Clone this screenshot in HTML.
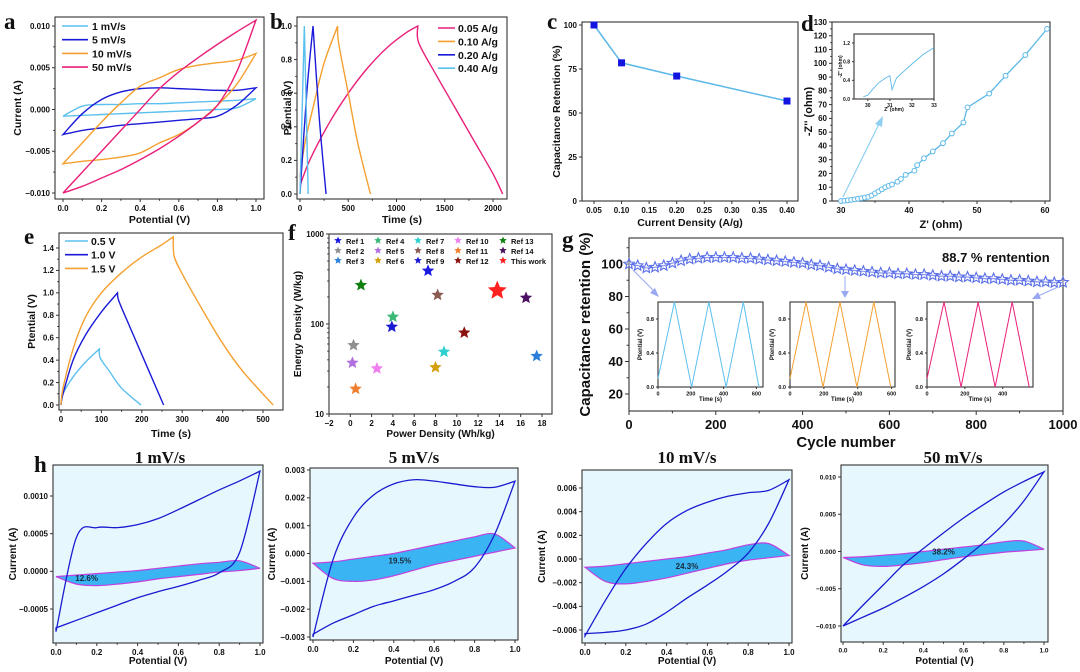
<!DOCTYPE html>
<html><head><meta charset="utf-8">
<style>
html,body{margin:0;padding:0;background:#fff;}
svg{display:block;font-family:"Liberation Sans",Arial,sans-serif;}
.lt{font-family:"Liberation Serif",serif;font-weight:bold;}
</style></head>
<body>
<svg id="fig" width="1080" height="672" viewBox="0 0 1080 672"></svg>
<script>
// ---------- DATA ----------
const cvV=[0,0.1,0.2,0.3,0.4,0.5,0.6,0.7,0.8,0.9,1.0];
// panel a
const a1Up=[-0.0008,0.0004,0.0006,0.0006,0.0007,0.0007,0.0008,0.0009,0.0010,0.0011,0.0013];
const a1Lo=[-0.0008,-0.0007,-0.0006,-0.0005,-0.0004,-0.0003,-0.0002,-0.0001,0.0000,0.0002,0.0013];
const a5Up=[-0.003,-0.0005,0.0012,0.0021,0.0025,0.0026,0.0025,0.0024,0.0023,0.0023,0.0026];
const a5Lo=[-0.003,-0.0025,-0.0022,-0.0019,-0.0017,-0.0015,-0.0013,-0.0011,-0.0008,0.0005,0.0026];
const a10Up=[-0.0065,-0.004,-0.0015,0.0008,0.0028,0.0038,0.0048,0.0053,0.0056,0.0059,0.0067];
const a10Lo=[-0.0065,-0.0062,-0.006,-0.0057,-0.0052,-0.004,-0.003,-0.0015,0.0005,0.003,0.0067];
const a50Up=[-0.010,-0.0075,-0.005,-0.0025,0.000,0.0025,0.0045,0.0062,0.0078,0.0093,0.0107];
const a50Lo=[-0.010,-0.0092,-0.0082,-0.0072,-0.006,-0.0047,-0.0032,-0.0015,0.0005,0.0045,0.0107];
const aLabels=["1 mV/s","5 mV/s","10 mV/s","50 mV/s"];
// panel b
const b05T=[0,100,300,500,700,900,1100,1221,1230,1400,1600,1800,2000,2100];
const b05V=[0.05,0.2,0.42,0.6,0.75,0.87,0.96,1.0,0.9,0.72,0.52,0.32,0.12,0.0];
const b10T=[0,50,150,250,390,400,500,600,730];
const b10V=[0.1,0.3,0.55,0.78,1.0,0.9,0.6,0.3,0.0];
const b20T=[0,70,135,200,270];
const b20V=[0,0.6,1.0,0.45,0.0];
const b40T=[0,45,85];
const b40V=[0,1,0];
const bLabels=["0.05 A/g","0.10 A/g","0.20 A/g","0.40 A/g"];
// panel c
const cX=[0.05,0.1,0.2,0.4];
const cY=[100,78.5,71,56.8];
// panel d
const dX=[30,30.5,31,31.5,32,32.5,33,33.5,34,34.5,35,35.5,36,36.5,37,37.5,38.3,38.8,39.5,40.8,41.2,42.2,43.5,45,46.3,48,48.6,51.8,54.2,57.1,60.3];
const dY=[0,0.2,0.5,0.8,1.2,1.6,2,2.5,3,4,5.5,7,8.5,10,11,12,14,16,19,22,26,31,36,42,49,57,68,78,91,106,125];
const dInX=[29.8,30,30.2,30.5,30.8,31,31.1,31.3,31.6,32,32.5,33];
const dInY=[0.05,0.08,0.2,0.35,0.45,0.5,0.2,0.45,0.58,0.75,0.95,1.1];
// panel e
const e05T=[0,5,30,60,95,97,120,150,198];
const e05V=[0,0.1,0.25,0.38,0.5,0.42,0.3,0.15,0];
const e10T=[0,5,30,60,100,140,143,170,200,254];
const e10V=[0,0.1,0.4,0.62,0.83,1.0,0.93,0.7,0.45,0];
const e15T=[0,5,30,60,100,150,200,250,278,280,300,350,400,450,525];
const e15V=[0,0.15,0.5,0.78,1.0,1.18,1.32,1.43,1.5,1.33,1.17,0.85,0.55,0.3,0];
const eLabels=["0.5 V","1.0 V","1.5 V"];
// panel f
const fNames=["Ref 1","Ref 2","Ref 3","Ref 4","Ref 5","Ref 6","Ref 7","Ref 8","Ref 9","Ref 10","Ref 11","Ref 12","Ref 13","Ref 14","This work"];
const fPower=[7.3,0.3,17.5,4,0.2,8,8.8,8.2,3.9,2.5,0.5,10.7,1,16.5,13.8];
const fEnergy=[390,58,44,120,37,33,49,210,93,32,19,80,270,195,235];
// panel g
const gCycle=[0,20,40,60,80,100,120,140,160,180,200,220,240,260,280,300,320,340,360,380,400,420,440,460,480,500,520,540,560,580,600,620,640,660,680,700,720,740,760,780,800,820,840,860,880,900,920,940,960,980,1000];
const gRet=[100,99,97.5,98,99,100.5,102,103,103.5,104,104,104,104,103.5,103.5,103,102.5,102,101.5,101,100.5,99.5,99,98,97,96.5,96,95.5,95,94.5,94.5,94,94,93.5,93.5,93,92.5,92.5,92,92,91.5,91,91,90.5,90,90,89.5,89,89,88.5,88.7];
const gIn1T=[0,100,205,310,415,520,615];
const gIn2T=[0,95,195,295,395,495,595];
const gIn3T=[0,90,180,270,360,450,540];
const gInV=[0.1,1,0,1,0,1,0];
// panel h
const h1Up=[-0.0008,0.00045,0.00058,0.00058,0.00062,0.0007,0.00082,0.00095,0.00108,0.0012,0.00133];
const h1Lo=[-0.00075,-0.00065,-0.00055,-0.00045,-0.00035,-0.00027,-0.0002,-0.00012,-0.00002,0.00025,0.00133];
const h1CUp=[-0.00007,-0.00005,-0.00003,-0.00001,0.00001,0.00004,0.00007,0.0001,0.00012,0.00014,0.00004];
const h1CLo=[-0.00007,-0.00017,-0.00019,-0.00017,-0.00014,-0.0001,-0.00007,-0.00004,-0.00001,0.00001,0.00004];
const h2Up=[-0.003,-0.0002,0.0013,0.0021,0.0025,0.00265,0.0026,0.0025,0.0024,0.00238,0.0026];
const h2Lo=[-0.0029,-0.0025,-0.0022,-0.0019,-0.0017,-0.0015,-0.0013,-0.001,-0.0005,0.0007,0.0026];
const h2CUp=[-0.00035,-0.0003,-0.0002,-0.0001,0,0.00015,0.0003,0.00045,0.0006,0.0007,0.0002];
const h2CLo=[-0.00035,-0.0009,-0.001,-0.00095,-0.0008,-0.0006,-0.0004,-0.00025,-0.0001,0.00005,0.0002];
const h3Up=[-0.0065,-0.0035,-0.0008,0.0013,0.003,0.0041,0.0048,0.0053,0.0056,0.0058,0.0067];
const h3Lo=[-0.0063,-0.0062,-0.006,-0.0055,-0.0045,-0.0033,-0.0022,-0.001,0.0005,0.003,0.0067];
const h3CUp=[-0.0007,-0.0006,-0.0004,-0.0002,0,0.0002,0.0005,0.0008,0.0012,0.0013,0.0003];
const h3CLo=[-0.0007,-0.0019,-0.0021,-0.0019,-0.0016,-0.0012,-0.0008,-0.0004,-0.0001,0.0001,0.0003];
const h4Up=[-0.010,-0.0072,-0.0045,-0.0018,0.0004,0.0025,0.0045,0.0063,0.008,0.0094,0.0107];
const h4Lo=[-0.010,-0.0088,-0.0076,-0.0062,-0.0047,-0.003,-0.001,0.0012,0.0037,0.0068,0.0107];
const h4CUp=[-0.0008,-0.0007,-0.0005,-0.0003,0,0.0003,0.0006,0.0009,0.0013,0.0014,0.0003];
const h4CLo=[-0.0008,-0.0018,-0.002,-0.0018,-0.0015,-0.0011,-0.0007,-0.0004,-0.0001,0.0001,0.0003];
const hPercent=["12.6%","19.5%","24.3%","38.2%"];

// ---------- HELPERS ----------
const NS='http://www.w3.org/2000/svg';
const svg=document.getElementById('fig');
function mk(tag,attrs,parent){const e=document.createElementNS(NS,tag);for(const k in attrs)e.setAttribute(k,attrs[k]);(parent||svg).appendChild(e);return e;}
function lin(d0,d1,r0,r1){return v=>r0+(v-d0)*(r1-r0)/(d1-d0);}
function logs(d0,d1,r0,r1){const l0=Math.log10(d0),l1=Math.log10(d1);return v=>r0+(Math.log10(v)-l0)*(r1-r0)/(l1-l0);}
function smooth(p,start){let d=(start||'M')+p[0][0].toFixed(2)+','+p[0][1].toFixed(2);for(let i=0;i<p.length-1;i++){const p0=p[i-1]||p[i],p1=p[i],p2=p[i+1],p3=p[i+2]||p2;const c1=[p1[0]+(p2[0]-p0[0])/6,p1[1]+(p2[1]-p0[1])/6],c2=[p2[0]-(p3[0]-p1[0])/6,p2[1]-(p3[1]-p1[1])/6];d+='C'+c1[0].toFixed(2)+','+c1[1].toFixed(2)+' '+c2[0].toFixed(2)+','+c2[1].toFixed(2)+' '+p2[0].toFixed(2)+','+p2[1].toFixed(2);}return d;}
function poly(p){return 'M'+p.map(q=>q[0].toFixed(2)+','+q[1].toFixed(2)).join('L');}
function fmtNum(v,dec){const s=Math.abs(v).toFixed(dec);return (v<0?'\u2212':'')+s;}
function txt(x,y,s,size,extra,parent){const t=mk('text',Object.assign({x:x,y:y,'font-size':size,'font-weight':'bold',fill:'#111'},extra||{}),parent);t.textContent=s;return t;}
function starPath(cx,cy,r){let d='';for(let i=0;i<10;i++){const rr=i%2?r*0.45:r;const a=-Math.PI/2+i*Math.PI/5;d+=(i?'L':'M')+(cx+rr*Math.cos(a)).toFixed(2)+','+(cy+rr*Math.sin(a)).toFixed(2);}return d+'Z';}

function frame(o){
  const g=mk('g',{});
  
  
  const r=mk('rect',{x:o.L,y:o.T,width:o.R-o.L,height:o.B-o.T,fill:o.bg||'none',stroke:'#333','stroke-width':1.1},g);
  
  
  const tl=o.tl||3;
  (o.xm||[]).forEach(v=>{const x=o.xs(v);mk('line',{x1:x,x2:x,y1:o.B,y2:o.B+tl*0.6,stroke:'#333','stroke-width':1},g);});
  (o.ym||[]).forEach(v=>{const y=o.ys(v);mk('line',{x1:o.L,x2:o.L-tl*0.6,y1:y,y2:y,stroke:'#333','stroke-width':1},g);});
  o.xt.forEach(v=>{const x=o.xs(v);mk('line',{x1:x,x2:x,y1:o.B,y2:o.B+tl,stroke:'#333','stroke-width':1},g);
    const t=txt(x,o.B+tl+o.fs+1,o.xf(v),o.fs,{'text-anchor':'middle'},g);
    
    });
  o.yt.forEach(v=>{const y=o.ys(v);mk('line',{x1:o.L,x2:o.L-tl,y1:y,y2:y,stroke:'#333','stroke-width':1},g);
    const t=txt(o.L-tl-2,y+o.fs*0.35,o.yf(v),o.fs,{'text-anchor':'end'},g);
    
    });
  if(o.xtitle){const t=txt((o.L+o.R)/2,o.xty,o.xtitle,o.tfs,{'text-anchor':'middle'},g);
    
    }
  if(o.ytitle){const cy=(o.T+o.B)/2;const t=txt(o.ytx,cy,o.ytitle,o.tfs,{'text-anchor':'middle',transform:'rotate(-90 '+o.ytx+' '+cy+')'},g);
    
    }
  return g;
}
function letter(x,y,s){const t=txt(x,y,s,23,{class:'lt'});
  
  }
function range(a,b,s){const r=[];for(let v=a;v<=b+1e-9;v+=s)r.push(+v.toFixed(6));return r;}
function loopPath(xs,ys,up,lo){const pu=cvV.map((v,i)=>[xs(v),ys(up[i])]);const pl=cvV.map((v,i)=>[xs(v),ys(lo[i])]).reverse();return smooth(pu)+smooth(pl,'L').replace(/^L[^C]*/,'')+'Z';}
function openLoop(xs,ys,up,lo){const pu=cvV.map((v,i)=>[xs(v),ys(up[i])]);const pl=cvV.map((v,i)=>[xs(v),ys(lo[i])]).reverse();return smooth(pu)+' '+smooth(pl,'L').replace(/^L[^C]*/,'')+'Z';}

// ---------- PANEL A ----------
(function(){
const xs=lin(0,1,63,256), ys=lin(-0.01,0.01,193,26);
const g=frame({name:'panel-a',L:55,R:264,T:17,B:199,xs,ys,xt:range(0,1,0.2),yt:[-0.01,-0.005,0,0.005,0.01],xf:v=>v.toFixed(1),yf:v=>fmtNum(v,3),fs:8,tfs:10.5,xtitle:'Potential (V)',xty:223,ytitle:'Current (A)',ytx:21,xm:range(0.1,0.9,0.2),ym:[-0.0075,-0.0025,0.0025,0.0075]});
const series=[[a1Up,a1Lo,'#5cc0ee'],[a5Up,a5Lo,'#1a1ad8'],[a10Up,a10Lo,'#f5a030'],[a50Up,a50Lo,'#e8207a']];
series.forEach((s,i)=>{const p=mk('path',{d:loopPath(xs,ys,s[0],s[1]),fill:'none',stroke:s[2],'stroke-width':1.4},g);
  
  
  const y=26+i*13.7;
  const l=mk('line',{x1:62,x2:88,y1:y,y2:y,stroke:s[2],'stroke-width':1.6},g);
  
  
  const t=txt(92,y+4,aLabels[i],10.5,{},g);
  
  });
letter(4,29,'a');
})();

// ---------- PANEL B ----------
(function(){
const xs=lin(0,2000,300,493), ys=lin(0,1,194,26);
const g=frame({name:'panel-b',L:297,R:507,T:17,B:199,xs,ys,xt:[0,500,1000,1500,2000],yt:range(0,1,0.2),xf:v=>String(v),yf:v=>v.toFixed(1),fs:8,tfs:10.5,xtitle:'Time (s)',xty:223,ytitle:'Ptential (V)',ytx:291,xm:[250,750,1250,1750],ym:range(0.1,0.9,0.2)});
const series=[[b05T,b05V,'#e8207a'],[b10T,b10V,'#f5a030'],[b20T,b20V,'#1a1ad8'],[b40T,b40V,'#5cc0ee']];
series.forEach((s,i)=>{const pts=s[0].map((t,j)=>[xs(t),ys(s[1][j])]);
  const k=s[1].indexOf(Math.max(...s[1]));
  const p=mk('path',{d:smooth(pts.slice(0,k+1))+smooth(pts.slice(k),'L').replace(/^L[^C]*/,''),fill:'none',stroke:s[2],'stroke-width':1.4},g);
  
  
  const y=28+i*13.4;
  const l=mk('line',{x1:438,x2:455,y1:y,y2:y,stroke:s[2],'stroke-width':1.6},g);
  
  
  const t=txt(458,y+4,bLabels[i],10.5,{},g);
  
  });
letter(270,29,'b');
})();

// ---------- PANEL C ----------
(function(){
const xs=lin(0.05,0.4,594,787), ys=lin(0,100,201,25);
const g=frame({name:'panel-c',L:582,R:798,T:22,B:201,xs,ys,xt:range(0.05,0.4,0.05),yt:[0,25,50,75,100],xf:v=>v.toFixed(2),yf:v=>String(v),fs:8,tfs:10.5,xtitle:'Current Density (A/g)',xty:226,ytitle:'Capacitance Retention (%)',ytx:560});
const pts=cX.map((x,i)=>[xs(x),ys(cY[i])]);
const l=mk('path',{d:poly(pts),fill:'none',stroke:'#5cb8e8','stroke-width':1.5},g);


pts.forEach(p=>{const r=mk('rect',{x:p[0]-3.5,y:p[1]-3.5,width:7,height:7,fill:'#1414e0'},g);
  
  });
letter(547,29,'c');
})();

// ---------- PANEL D ----------
(function(){
const xs=lin(30,60,841,1045), ys=lin(0,130,201,22);
const g=frame({name:'panel-d',L:832,R:1050,T:22,B:201,xs,ys,xt:[30,40,50,60],yt:range(0,130,10),xf:v=>String(v),yf:v=>String(v),fs:8,tfs:11,xtitle:"Z' (ohm)",xty:228,ytitle:"-Z'' (ohm)",ytx:812,xm:[35,45,55],ym:range(5,125,10)});
const pts=dX.map((x,i)=>[xs(x),ys(dY[i])]);
const l=mk('path',{d:poly(pts),fill:'none',stroke:'#5cb8e8','stroke-width':1.3},g);


pts.forEach(p=>{const c=mk('circle',{cx:p[0],cy:p[1],r:2.4,fill:'#fff',stroke:'#5cb8e8','stroke-width':1},g);
  
  });
const ar=mk('path',{d:'M843,197L879,124',stroke:'#8fd0f2','stroke-width':1.2,fill:'none'},g);


const ah=mk('path',{d:'M883,116L875,124L882,127Z',fill:'#8fd0f2'},g);


const ixs=lin(29.6,33,859,934), iys=lin(0,1.2,99,43);
const gi=frame({name:'panel-d-inset',L:854,R:934,T:34,B:99,xs:ixs,ys:iys,xt:[30,31,32,33],yt:[0,0.4,0.8,1.2],xf:v=>String(v),yf:v=>v.toFixed(1),fs:5,tfs:5,tl:2,xtitle:"Z' (ohm)",xty:111,ytitle:"-Z'' (ohm)",ytx:842});
const il=mk('path',{d:poly(dInX.map((x,i)=>[ixs(x),iys(dInY[i])])),fill:'none',stroke:'#5cb8e8','stroke-width':0.9},gi);


letter(801,31,'d');
})();

// ---------- PANEL E ----------
(function(){
const xs=lin(0,500,61,263), ys=lin(0,1.4,405,248);
const g=frame({name:'panel-e',L:59,R:283,T:233,B:410,xs,ys,xt:range(0,500,100),yt:range(0,1.4,0.2),xf:v=>String(v),yf:v=>v.toFixed(1),fs:8,tfs:10.5,xtitle:'Time (s)',xty:437,ytitle:'Ptential (V)',ytx:35,xm:range(50,450,100),ym:range(0.1,1.3,0.2)});
const series=[[e05T,e05V,'#5cc0ee'],[e10T,e10V,'#1a1ad8'],[e15T,e15V,'#f5a030']];
series.forEach((s,i)=>{const pts=s[0].map((t,j)=>[xs(t),ys(s[1][j])]);
  const k=s[1].indexOf(Math.max(...s[1]));
  const p=mk('path',{d:smooth(pts.slice(0,k+1))+smooth(pts.slice(k),'L').replace(/^L[^C]*/,''),fill:'none',stroke:s[2],'stroke-width':1.4},g);
  
  
  const y=241+i*13.7;
  const l=mk('line',{x1:65,x2:88,y1:y,y2:y,stroke:s[2],'stroke-width':1.6},g);
  
  
  const t=txt(91,y+4,eLabels[i],10.5,{},g);
  
  });
letter(24,244,'e');
})();

// ---------- PANEL F ----------
(function(){
const xs=lin(-2,18,329,542), ys=logs(10,1000,414,234);
const g=frame({name:'panel-f',L:329,R:552,T:234,B:414,xs,ys,xt:range(-2,18,2),yt:[10,100,1000],xf:v=>(v<0?'\u2212':'')+Math.abs(v),yf:v=>String(v),fs:8,tfs:10,xtitle:'Power Density (Wh/kg)',xty:437,ytitle:'Energy Density (W/kg)',ytx:301,ym:[20,30,40,50,60,70,80,90,200,300,400,500,600,700,800,900]});
const cols=['#1a1ae0','#909090','#2a80d8','#3cb878','#b070e0','#d4a010','#30d0d0','#8b5a50','#1a1ad0','#f080f0','#f08030','#8b1010','#108010','#4b1060','#ff2020'];
fPower.forEach((p,i)=>{const big=i===14;
  const s=mk('path',{d:starPath(xs(p),ys(fEnergy[i]),big?10:6.5),fill:cols[i]},g);
  
  
  const col=Math.floor(i/3),row=i%3;
  const lx=[338,378,418,458,503][col], ly=241+row*10;
  const ls=mk('path',{d:starPath(lx,ly-0.5,4),fill:cols[i]},g);
  
  
  const t=txt(lx+8,ly+3,fNames[i],7.5,{},g);
  
  });
letter(288,240,'f');
})();

// ---------- PANEL G ----------
(function(){
const xs=lin(0,1000,629,1063), ys=lin(20,100,394,264);
const g=frame({name:'panel-g',L:629,R:1063,T:238,B:411,xs,ys,xt:range(0,1000,200),yt:range(20,100,20),xf:v=>String(v),yf:v=>String(v),fs:13,tfs:15,tl:4,xtitle:'Cycle number',xty:447,ytitle:'Capacitance retention (%)',ytx:590,xm:range(100,900,200),ym:[30,50,70,90,110]});
const pts=gCycle.map((c,i)=>[xs(c),ys(gRet[i])]);
const l=mk('path',{d:poly(pts),fill:'none',stroke:'#5a6ee8','stroke-width':1.2},g);


pts.forEach(p=>{const s=mk('path',{d:starPath(p[0],p[1],5.5),fill:'#fff','fill-opacity':0.3,stroke:'#5a6ee8','stroke-width':1.1},g);
  
  });
const note=txt(942,262,'88.7 % rentention',13,{},g);


const insets=[[658,763,gIn1T,'#5cc0ee',[0,200,400,600],640],[790,895,gIn2T,'#f5a030',[0,200,400,600],620],[927,1033,gIn3T,'#e8207a',[0,200,400],560]];
insets.forEach((ins,k)=>{const ixs=lin(0,ins[5],ins[0],ins[1]), iys=lin(0,1,387,302);
  const gi=frame({name:'panel-g-inset-'+(k+1),L:ins[0],R:ins[1],T:302,B:387,xs:ixs,ys:iys,xt:ins[4],yt:[0,0.4,0.8],xf:v=>String(v),yf:v=>v.toFixed(1),fs:5.5,tfs:6,tl:2,xtitle:'Time (s)',xty:401,ytitle:'Ptential (V)',ytx:ins[0]-16});
  const p=mk('path',{d:poly(ins[2].map((t,i)=>[ixs(t),iys(gInV[i])])),fill:'none',stroke:ins[3],'stroke-width':1},gi);
  
  });
[['M633,270L655,292','M659,297L650,293L655,288Z'],['M845,276L845,292','M845,298L841,291L849,291Z'],['M1058,287L1038,296','M1032,299L1038,292L1041,299Z']].forEach(a=>{
  const ln=mk('path',{d:a[0],stroke:'#9aa8f0','stroke-width':1,fill:'none'},g);
  
  
  const hd=mk('path',{d:a[1],fill:'#9aa8f0'},g);
  
  });
letter(562,247,'g');
})();

// ---------- PANEL H ----------
(function(){
const cfg=[
 {n:1,L:53,R:263,T:465,B:643,x0:56,x1:260,yd:[-0.0005,0.001],yr:[609,496],yt:[-0.0005,0,0.0005,0.001],dec:4,up:h1Up,lo:h1Lo,cu:h1CUp,cl:h1CLo,title:'1 mV/s',tx:160,ytx:16,lab:[0.15,-0.00009],fs:8},
 {n:2,L:310,R:518,T:468,B:640,x0:313,x1:515,yd:[-0.003,0.003],yr:[637,470],yt:[-0.003,-0.002,-0.001,0,0.001,0.002,0.003],dec:3,up:h2Up,lo:h2Lo,cu:h2CUp,cl:h2CLo,title:'5 mV/s',tx:414,ytx:275,lab:[0.43,-0.00025],fs:8},
 {n:3,L:582,R:792,T:470,B:643,x0:585,x1:789,yd:[-0.006,0.006],yr:[630,488],yt:[-0.006,-0.004,-0.002,0,0.002,0.004,0.006],dec:3,up:h3Up,lo:h3Lo,cu:h3CUp,cl:h3CLo,title:'10 mV/s',tx:687,ytx:545,lab:[0.5,-0.0006],fs:8},
 {n:4,L:841,R:1048,T:465,B:642,x0:843,x1:1044,yd:[-0.01,0.01],yr:[626,477],yt:[-0.01,-0.005,0,0.005,0.01],dec:3,up:h4Up,lo:h4Lo,cu:h4CUp,cl:h4CLo,title:'50 mV/s',tx:953,ytx:808,lab:[0.5,0.0],fs:6.5}];
cfg.forEach((c,k)=>{const xs=lin(0,1,c.x0,c.x1), ys=lin(c.yd[0],c.yd[1],c.yr[0],c.yr[1]);
  const g=frame({name:'panel-h'+c.n,L:c.L,R:c.R,T:c.T,B:c.B,xs,ys,xt:range(0,1,0.2),yt:c.yt,xf:v=>v.toFixed(1),yf:v=>fmtNum(v,c.dec),fs:c.fs,tfs:10,xtitle:'Potential (V)',xty:664,ytitle:'Current (A)',ytx:c.ytx,bg:'#e6f8fd',xm:range(0.1,0.9,0.2)});
  const cap=mk('path',{d:openLoop(xs,ys,c.cu,c.cl),fill:'#3ab4f2',stroke:'#c040e0','stroke-width':1.2},g);
  
  
  const lp=mk('path',{d:loopPath(xs,ys,c.up,c.lo),fill:'none',stroke:'#1a1ad0','stroke-width':1.3},g);
  
  
  const pl=txt(xs(c.lab[0]),ys(c.lab[1])+3,hPercent[k],8,{'text-anchor':'middle',fill:'#1a2a3a'},g);
  
  
  const tt=txt(c.tx,463,c.title,17,{'text-anchor':'middle',class:'lt'},g);
  
  });
letter(34,472,'h');
})();
</script>
</body></html>
